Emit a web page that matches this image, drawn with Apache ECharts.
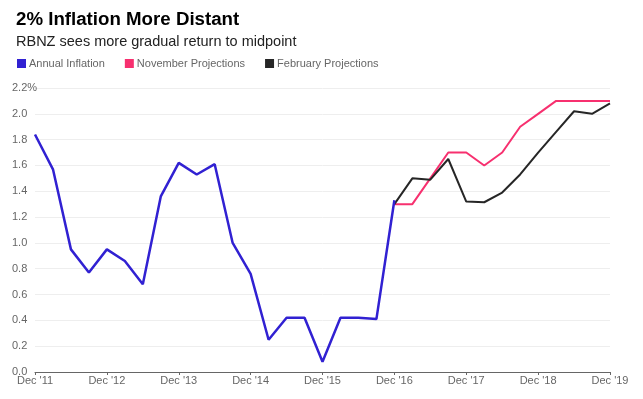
<!DOCTYPE html>
<html>
<head>
<meta charset="utf-8">
<title>2% Inflation More Distant</title>
<script src="https://cdn.jsdelivr.net/npm/echarts@6/dist/echarts.min.js"></script>
<style>
  html, body { margin: 0; padding: 0; background: #fff; }
  #chart { width: 643px; height: 399px; }
</style>
</head>
<body>
<div id="chart"></div>
<script>
  // quarterly points, Dec '11 .. Dec '19
  var quarters = [
    "Dec '11", "Mar '12", "Jun '12", "Sep '12",
    "Dec '12", "Mar '13", "Jun '13", "Sep '13",
    "Dec '13", "Mar '14", "Jun '14", "Sep '14",
    "Dec '14", "Mar '15", "Jun '15", "Sep '15",
    "Dec '15", "Mar '16", "Jun '16", "Sep '16",
    "Dec '16", "Mar '17", "Jun '17", "Sep '17",
    "Dec '17", "Mar '18", "Jun '18", "Sep '18",
    "Dec '18", "Mar '19", "Jun '19", "Sep '19",
    "Dec '19"
  ];

  var annualInflation = [
    1.84, 1.57, 0.95, 0.77, 0.95, 0.86, 0.68, 1.36,
    1.62, 1.53, 1.61, 1.00, 0.76, 0.25, 0.42, 0.42,
    0.08, 0.42, 0.42, 0.41, 1.33
  ];

  // projections start at Dec '16 (index 20)
  var novemberProj = [1.3, 1.3, 1.5, 1.7, 1.7, 1.6, 1.7, 1.9, 2.0, 2.1, 2.1, 2.1, 2.1];
  var februaryProj = [1.3, 1.5, 1.49, 1.65, 1.32, 1.315, 1.39, 1.53, 1.7, 1.86, 2.02, 2.0, 2.08];

  var projStart = 20;

  function pad(arr, start) {
    var out = [];
    for (var i = 0; i < quarters.length; i++) {
      var j = i - start;
      out.push(j >= 0 && j < arr.length ? arr[j] : null);
    }
    return out;
  }

  var chart = echarts.init(document.getElementById('chart'));

  var font = 'Liberation Sans, Arial, sans-serif';

  var option = {
    backgroundColor: '#fff',
    animation: false,
    textStyle: { fontFamily: font },
    title: [{
      text: '2% Inflation More Distant',
      left: 11,
      top: 5,
      textStyle: { fontSize: 18.7, fontWeight: 'bold', color: '#000', fontFamily: font }
    }, {
      text: 'RBNZ sees more gradual return to midpoint',
      left: 11,
      top: 29,
      textStyle: { fontSize: 14.5, fontWeight: 'normal', color: '#222', fontFamily: font }
    }],
    legend: {
      left: 12,
      top: 53,
      icon: 'rect',
      itemWidth: 9,
      itemHeight: 9,
      itemGap: 20,
      textStyle: { fontSize: 11, color: '#666', fontFamily: font, padding: [0, 0, 0, -2] },
      data: ['Annual Inflation', 'November Projections', 'February Projections']
    },
    grid: { left: 35, right: 33, top: 88, bottom: 27 },
    xAxis: {
      type: 'category',
      data: quarters,
      boundaryGap: false,
      axisLine: { lineStyle: { color: '#666', width: 1 } },
      axisTick: { interval: 3, length: 3, lineStyle: { color: '#666' } },
      axisLabel: { interval: 3, color: '#666', fontSize: 11, margin: 3, fontFamily: font },
      splitLine: { show: false }
    },
    yAxis: {
      type: 'value',
      min: 0,
      max: 2.2,
      interval: 0.2,
      axisLine: { show: false },
      axisTick: { show: false },
      axisLabel: {
        color: '#666',
        fontSize: 11,
        align: 'left',
        margin: 23,
        fontFamily: font,
        formatter: function (v) {
          var s = v.toFixed(1);
          return Math.abs(v - 2.2) < 1e-6 ? s + '%' : s;
        }
      },
      splitLine: { lineStyle: { color: '#eeeeee', width: 1 } }
    },
    series: [{
      name: 'Annual Inflation',
      type: 'line',
      data: annualInflation,
      symbol: 'none',
      color: '#3121d2',
      lineStyle: { width: 2.5, color: '#3121d2' },
      z: 3
    }, {
      name: 'November Projections',
      type: 'line',
      data: pad(novemberProj, projStart),
      symbol: 'none',
      color: '#f7306f',
      lineStyle: { width: 2, color: '#f7306f' },
      z: 2
    }, {
      name: 'February Projections',
      type: 'line',
      data: pad(februaryProj, projStart),
      symbol: 'none',
      color: '#262626',
      lineStyle: { width: 2, color: '#262626' },
      z: 2
    }]
  };

  chart.setOption(option);
</script>
</body>
</html>
